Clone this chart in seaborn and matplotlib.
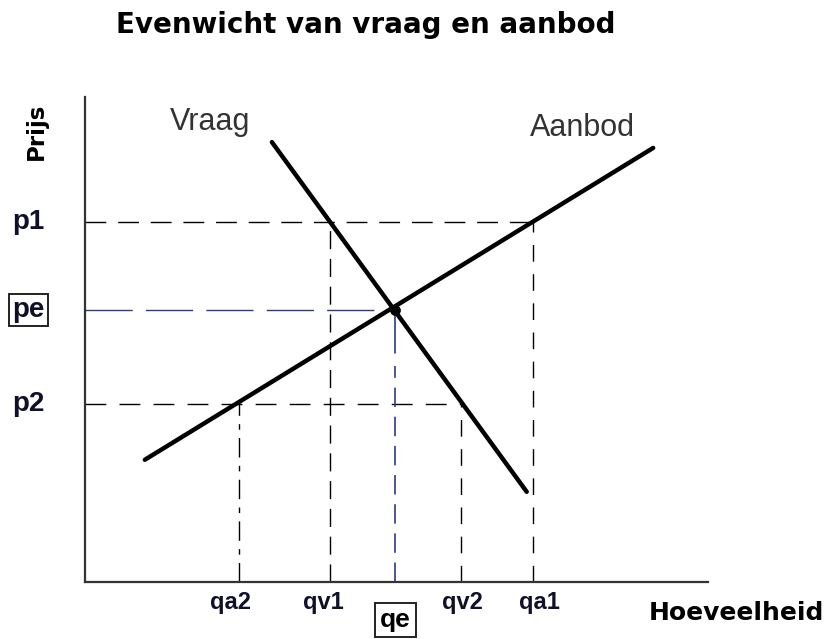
import matplotlib
matplotlib.use('Agg')
import matplotlib.pyplot as plt
import seaborn as sns
import pandas as pd

# ---- data (axis units, 0-100) ----
supply_q = [9.6, 91.2]
supply_p = [25.2, 89.5]
demand_q = [30.0, 70.9]
demand_p = [90.7, 18.6]

price_labels = ['p1', 'pe', 'p2']
price_values = [74.2, 56.1, 36.7]
price_right = [71.9, 49.8, 60.4]          # horizontal guide ends (qa1, qe, qv2)

qty_labels = ['qa2', 'qv1', 'qe', 'qv2', 'qa1']
qty_values = [24.7, 39.3, 49.8, 60.4, 71.9]
qty_top = [36.7, 74.2, 56.1, 36.7, 74.2]  # vertical guide tops (p2, p1, pe, p2, p1)

title = 'Evenwicht van vraag en aanbod'
xlabel = 'Hoeveelheid'
ylabel = 'Prijs'

sns.set_style('white')
plt.rcParams['lines.scale_dashes'] = False
plt.rcParams['text.color'] = 'black'
plt.rcParams['font.family'] = ['Liberation Sans', 'DejaVu Sans']

W, H = 831, 639
fig = plt.figure(figsize=(W / 100, H / 100), dpi=100)
ax = fig.add_axes([85 / W, (H - 582) / H, 623 / W, 485 / H])
ax.set_xlim(0, 100)
ax.set_ylim(0, 100)

BLUE = '#2e3a87'
lw_guide = 1.0

# horizontal guides
h_dashes = {'p1': (15, 8.5), 'pe': (34, 9.5), 'p2': (15, 9.5)}
for lab, pv, xr in zip(price_labels, price_values, price_right):
    col = BLUE if lab == 'pe' else 'black'
    ln, = ax.plot([0, xr], [pv, pv], color=col, lw=lw_guide, zorder=2)
    ln.set_dashes(h_dashes[lab])

# vertical guides
v_dashes = {'qa2': (14, 6, 4, 6), 'qv1': (13, 7), 'qe': (14, 7),
            'qv2': (12, 9), 'qa1': (12, 9)}
for lab, qv, yt in zip(qty_labels, qty_values, qty_top):
    col = BLUE if lab == 'qe' else 'black'
    if lab == 'qe':
        ax.plot([qv, qv], [yt, yt - 8.9], color=col, lw=1.2, zorder=2)
        ln, = ax.plot([qv, qv], [0, yt - 11.5], color=col, lw=1.2, zorder=2)
    else:
        ln, = ax.plot([qv, qv], [0, yt], color=col, lw=lw_guide, zorder=2)
    ln.set_dashes(v_dashes[lab])

# supply & demand curves
sdf = pd.DataFrame({'q': supply_q, 'p': supply_p})
ddf = pd.DataFrame({'q': demand_q, 'p': demand_p})
sns.lineplot(data=sdf, x='q', y='p', ax=ax, color='black', lw=3.2,
             estimator=None, sort=False, zorder=3)
sns.lineplot(data=ddf, x='q', y='p', ax=ax, color='black', lw=3.2,
             estimator=None, sort=False, zorder=3)
eq = pd.DataFrame({'q': [qty_values[2]], 'p': [price_values[1]]})
sns.scatterplot(data=eq, x='q', y='p', ax=ax, color='black', s=60,
                marker='o', linewidth=0, zorder=4)

# axes styling
for s in ['top', 'right']:
    ax.spines[s].set_visible(False)
for s in ['left', 'bottom']:
    ax.spines[s].set_color('#333333')
    ax.spines[s].set_linewidth(1.6)
ax.set_xticks([])
ax.set_yticks([])
ax.set_xlabel('')
ax.set_ylabel('')

# price labels
ytr = ax.get_yaxis_transform()
for lab, pv in zip(price_labels, price_values):
    kw = {}
    if lab == 'pe':
        kw['bbox'] = dict(boxstyle='square,pad=0.12', fc='white',
                          ec='#222222', lw=1.4)
    ax.text(-0.091, pv, lab, transform=ytr, ha='center', va='center',
            fontsize=20, fontweight='bold', color='#10102a', **kw)

# quantity labels
xtr = ax.get_xaxis_transform()
q_off = {'qa2': -1.4, 'qv1': -1.0, 'qe': 0.0, 'qv2': 0.2, 'qa1': 1.1}
for lab, qv in zip(qty_labels, qty_values):
    if lab == 'qe':
        ax.text(qv, -0.078, lab, transform=xtr, ha='center', va='center',
                fontsize=19, fontweight='bold', color='black',
                bbox=dict(boxstyle='square,pad=0.2', fc='white',
                          ec='#222222', lw=1.4))
    else:
        ax.text(qv + q_off[lab], -0.043, lab, transform=xtr, ha='center',
                va='center', fontsize=17, fontweight='bold', color='#10102a')

# curve names
fig.text(170 / W, 1 - 130 / H, 'Vraag', ha='left', va='baseline',
         fontsize=22, color='#333333')
fig.text(530 / W, 1 - 136 / H, 'Aanbod', ha='left', va='baseline',
         fontsize=22, color='#333333')

# title & axis names
fig.text(366 / W, 1 - 33 / H, title, ha='center', va='baseline',
         fontsize=20, fontweight='bold', family='DejaVu Sans', color='black')
fig.text(736 / W, 1 - 620 / H, xlabel, ha='center', va='baseline',
         fontsize=18, fontweight='bold', family='DejaVu Sans', color='black')
fig.text(43 / W, 1 - 131 / H, ylabel, ha='center', va='baseline',
         rotation=90, rotation_mode='anchor',
         fontsize=16.5, fontweight='bold', family='DejaVu Sans', color='black')

fig.savefig('out.png', dpi=100)
